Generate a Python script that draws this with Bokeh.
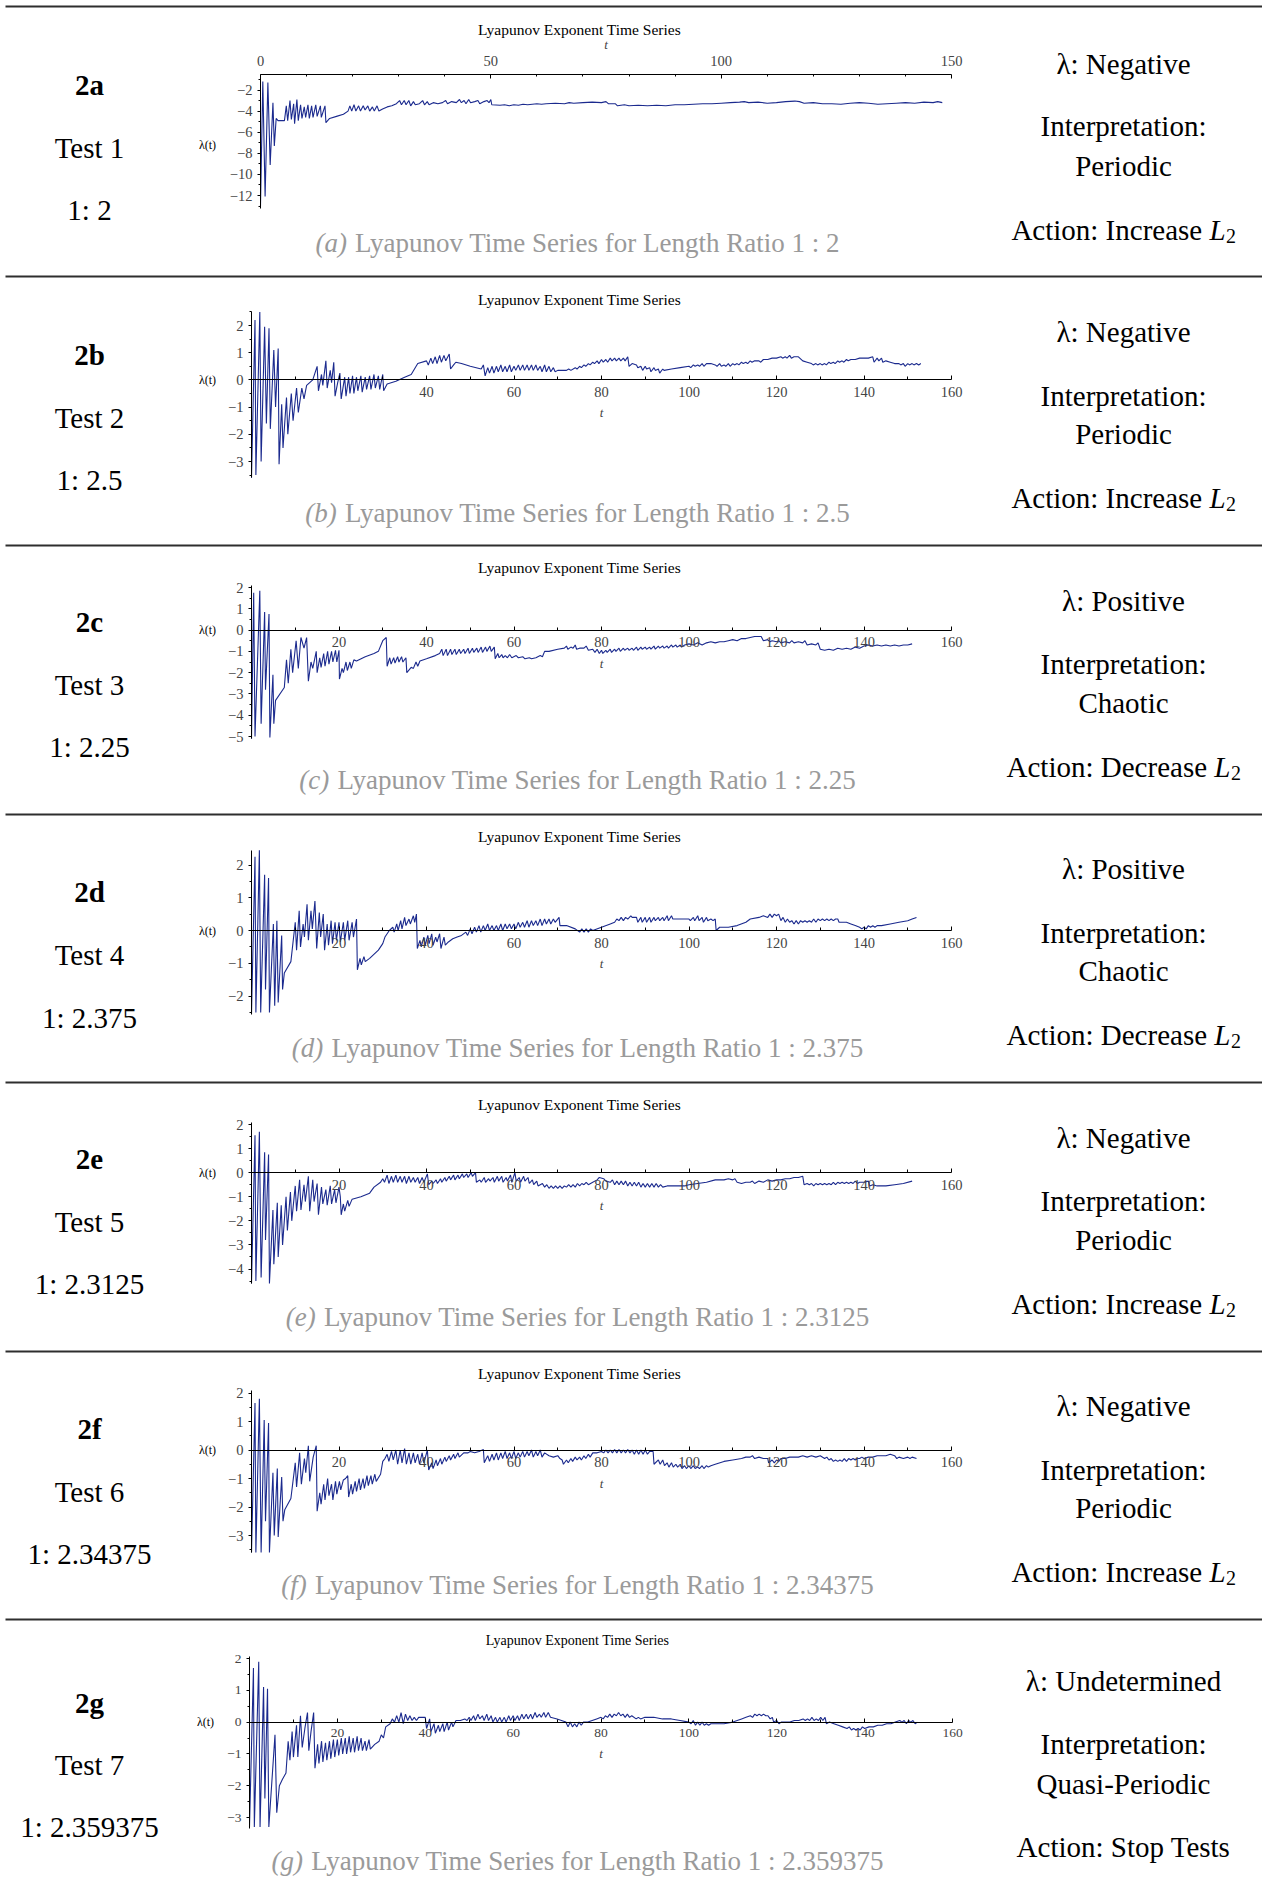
from bokeh.plotting import figure
from bokeh.models import Range1d, LinearAxis, FixedTicker
from bokeh.core.properties import value
from bokeh.embed import file_html
from bokeh.resources import INLINE

# ---------------- data ----------------
row_ids = ["2a", "2b", "2c", "2d", "2e", "2f", "2g"]
test_names = ["Test 1", "Test 2", "Test 3", "Test 4", "Test 5", "Test 6", "Test 7"]
ratios = ["2", "2.5", "2.25", "2.375", "2.3125", "2.34375", "2.359375"]
lambda_signs = ["Negative", "Negative", "Positive", "Positive", "Negative", "Negative", "Undetermined"]
interpretations = ["Periodic", "Periodic", "Chaotic", "Chaotic", "Periodic", "Periodic", "Quasi-Periodic"]
actions = ["Increase", "Increase", "Decrease", "Decrease", "Increase", "Increase", "Stop Tests"]
panel_letters = ["a", "b", "c", "d", "e", "f", "g"]

series_a = [(0.0,-13.0),(0.5,-1.2),(1.0,-12.1),(1.6,-1.3),(2.1,-9.1),(2.7,-3.2),(3.0,-7.3),(3.4,-4.7),(3.8,-4.9),(5.2,-4.9),
(5.6,-3.5),(5.9,-4.9),(6.4,-3.0),(6.7,-4.8),(7.2,-3.3),(7.4,-5.2),(7.9,-2.9),(8.2,-4.9),(8.7,-3.4),(9.0,-4.7),(9.5,-3.6),(9.8,-4.6),
(10.3,-3.4),(10.6,-4.7),(11.1,-3.5),(11.4,-4.6),(12.0,-3.4),(12.3,-4.5),(13.0,-3.5),(13.2,-4.6),(14.0,-3.5),(14.2,-5.1),
(15.0,-4.7),(16.5,-4.5),(18.0,-4.3),(19.0,-4.0),(19.4,-3.5),(19.8,-4.0),(20.3,-3.4),(20.7,-4.0),(21.3,-3.5),(21.7,-4.0),(22.3,-3.5),
(22.7,-3.9),(23.3,-3.5),(23.7,-4.0),(24.3,-3.6),(24.7,-4.0),(25.3,-3.5),(25.7,-4.0),(26.5,-3.8),(27.5,-3.6),(28.5,-3.5),(29.0,-3.4),(29.5,-3.3),
(30.2,-3.0),(30.6,-3.4),(31.2,-3.0),(31.6,-3.4),(32.2,-3.0),(32.6,-3.5),(33.2,-3.1),(33.6,-3.4),(34.5,-3.3),(35.2,-3.0),(35.6,-3.4),
(36.2,-3.1),(36.6,-3.4),(37.5,-3.2),(38.5,-3.3),(39.5,-3.2),(40.2,-3.0),(40.6,-3.3),(41.5,-3.1),(42.5,-3.2),(43.2,-2.9),(43.6,-3.2),
(44.2,-3.0),(44.6,-3.3),(45.2,-2.9),(45.6,-3.2),(46.5,-3.1),(47.2,-3.0),(47.6,-3.3),(48.5,-3.1),(49.2,-3.0),(49.6,-3.2),(50.0,-2.9),(50.2,-3.4),
(52,-3.45),(53,-3.4),(54,-3.5),(55,-3.4),(56,-3.45),(57,-3.35),(58,-3.4),(60,-3.3),(61,-3.35),(62,-3.3),(64,-3.25),(66,-3.3),(67,-3.2),
(68,-3.25),(70,-3.2),(72,-3.15),(74,-3.2),(75,-3.1),(75.5,-3.3),(77,-3.3),(77.5,-3.5),(79,-3.4),(80,-3.5),(82,-3.45),(84,-3.5),(86,-3.45),
(88,-3.5),(90,-3.4),(92,-3.4),(94,-3.35),(96,-3.3),(98,-3.3),(100,-3.25),(102,-3.2),(104,-3.15),(105,-3.1),(106,-3.2),(108,-3.15),
(110,-3.25),(112,-3.2),(114,-3.1),(116,-3.05),(117,-3.1),(118,-3.25),(120,-3.2),(122,-3.3),(124,-3.3),(126,-3.35),(128,-3.25),(130,-3.2),
(132,-3.25),(134,-3.35),(136,-3.3),(138,-3.25),(140,-3.2),(142,-3.25),(144,-3.15),(146,-3.2),(147,-3.1),(148,-3.2)]

series_b = [(0.0,-3.6),(0.8,2.2),(1.0,-3.5),(1.9,2.5),(2.2,-3.0),(3.0,1.95),(3.4,-1.6),(4.0,1.9),(4.3,-1.8),(5.1,1.1),(5.5,-1.0),(6.1,1.15),(6.3,-3.1),
(6.9,-0.9),(7.2,-2.5),(8.0,-0.65),(8.3,-2.0),(9.1,-0.5),(9.5,-1.5),(10.3,-0.3),(10.7,-1.2),(11.5,-0.3),(12.0,-0.7),(12.6,-0.2),(14.0,0.0),
(15.0,0.5),(15.3,-0.4),(16.0,0.2),(16.3,-0.2),(17.0,0.7),(17.3,-0.3),(18.0,0.35),(18.3,-0.1),(18.8,0.65),(19.1,-0.6),(19.7,-0.1),(20.2,0.25),
(20.5,-0.7),(21.0,-0.2),(21.3,0.1),(21.6,-0.6),(22.2,0.1),(22.5,-0.5),(23.1,0.15),(23.4,-0.5),(24.0,0.1),(24.3,-0.4),(25.0,0.15),(25.3,-0.45),
(26.0,0.1),(26.3,-0.35),(27.0,0.15),(27.3,-0.35),(28.0,0.2),(28.3,-0.3),(29.0,0.15),(29.3,-0.35),(30.0,0.2),(30.2,-0.4),
(31.0,-0.15),(33.0,-0.05),(35.0,0.1),(36.5,0.2),(38.0,0.6),(40.0,0.7),(40.4,0.55),(41.0,0.8),(41.4,0.6),(42.0,0.85),(42.4,0.6),(43.0,0.9),
(43.4,0.65),(44.0,0.9),(44.4,0.7),(45.2,0.95),(45.5,0.4),(46.2,0.55),(46.7,0.65),(48,0.6),(50,0.5),(52.5,0.4),(53.0,0.55),(53.4,0.15),
(54.0,0.45),(54.4,0.25),(55.0,0.5),(55.4,0.25),(56.0,0.5),(56.4,0.3),(57.0,0.55),(57.4,0.3),(58.0,0.5),(58.4,0.3),(59.0,0.55),(59.4,0.3),
(60.0,0.5),(60.4,0.35),(61.0,0.55),(61.4,0.35),(62.0,0.55),(62.4,0.35),(63.0,0.55),(63.4,0.35),(64.0,0.55),(64.4,0.35),(65.0,0.55),(65.4,0.35),
(66.0,0.5),(66.4,0.3),(67.0,0.55),(67.4,0.3),(68.0,0.5),(68.4,0.3),(69.0,0.45),(69.4,0.3),(70.0,0.35),(72.0,0.35),(72.5,0.4),(73,0.35),
(74.0,0.45),(74.4,0.4),(75.0,0.5),(75.4,0.45),(76.0,0.55),(76.4,0.5),(77.0,0.6),(77.4,0.55),(78.0,0.65),(78.4,0.6),(79.0,0.7),(79.4,0.6),
(80.0,0.75),(80.4,0.65),(81.0,0.75),(81.4,0.65),(82.0,0.8),(82.4,0.7),(83.0,0.8),(83.4,0.7),(84.0,0.8),(84.4,0.7),(85.0,0.8),(85.4,0.7),
(86.0,0.85),(86.3,0.5),(87.0,0.6),(88.0,0.55),(88.3,0.45),(89.0,0.5),(89.4,0.35),(90.0,0.5),(90.3,0.4),(91.0,0.45),(91.3,0.3),(92.0,0.45),
(92.3,0.35),(93.0,0.4),(93.3,0.25),(94.0,0.4),(94.3,0.35),(96,0.4),(98,0.45),(100,0.5),(100.4,0.45),(101,0.55),(101.4,0.5),(102,0.55),
(102.4,0.5),(103,0.6),(103.4,0.5),(104,0.6),(105,0.6),(106,0.55),(106.4,0.5),(107,0.6),(107.4,0.5),(108,0.55),(108.4,0.5),(109,0.6),
(109.4,0.5),(110,0.6),(110.4,0.55),(111,0.6),(111.4,0.55),(112,0.65),(112.4,0.6),(113,0.65),(113.4,0.6),(114,0.7),(114.4,0.65),(115,0.7),
(116,0.7),(116.4,0.65),(117,0.75),(118,0.75),(119,0.8),(120,0.8),(121,0.85),(121.4,0.8),(122,0.85),(122.4,0.8),(123,0.9),(123.4,0.8),
(124,0.85),(125,0.85),(126,0.7),(127,0.65),(128,0.6),(128.4,0.55),(129,0.6),(129.4,0.55),(130,0.6),(130.4,0.55),(131,0.6),(131.4,0.55),
(132,0.65),(132.4,0.6),(133,0.65),(133.4,0.6),(134,0.7),(134.4,0.65),(135,0.7),(135.4,0.65),(136,0.75),(136.4,0.7),(137,0.75),(138,0.75),
(139,0.8),(140,0.8),(141,0.8),(142,0.85),(142.3,0.65),(143,0.8),(143.4,0.7),(144,0.8),(144.3,0.65),(145,0.7),(146,0.65),(147,0.6),
(148,0.6),(148.4,0.55),(149,0.6),(149.4,0.5),(150,0.6),(150.4,0.55),(151,0.6),(151.4,0.55),(152,0.6),(152.5,0.55),(153,0.6)]

series_c = [(0.0,-5.1),(0.5,1.75),(0.8,-5.0),(1.9,1.85),(2.2,-4.4),(3.0,0.85),(3.2,-2.8),(4.0,0.75),(4.2,-5.05),(4.9,-2.1),(5.1,-4.4),(5.5,-3.3),(7.5,-2.7),
(8.0,-1.4),(8.4,-2.5),(9.0,-0.9),(9.4,-2.0),(10.2,-0.5),(10.7,-1.8),(11.3,-0.35),(12.0,-0.85),(12.6,-0.35),(13.0,-2.4),(13.6,-1.5),(14.0,-1.8),
(14.8,-1.0),(15.0,-2.0),(15.6,-1.3),(15.9,-1.75),(16.5,-1.1),(16.8,-1.7),(17.4,-1.0),(17.7,-1.6),(18.3,-1.0),(18.6,-1.5),(19.2,-0.95),(19.5,-1.5),
(20.0,-0.95),(20.1,-2.3),(20.7,-1.8),(21.0,-2.0),(21.6,-1.5),(21.9,-1.9),(22.5,-1.5),(22.8,-1.8),(23.4,-1.4),(24.0,-1.45),(26,-1.25),(28,-1.1),
(29,-1.0),(30,-0.5),(30.8,-0.35),(31.0,-1.7),(31.6,-1.3),(31.9,-1.6),(32.5,-1.3),(32.8,-1.55),(33.4,-1.25),(33.7,-1.5),(34.3,-1.25),(34.6,-1.5),
(35.3,-1.3),(35.5,-2.0),(36.5,-1.75),(37,-1.8),(37.6,-1.5),(38,-1.7),(38.5,-1.45),(40,-1.35),(42,-1.2),(43,-1.1),(43.5,-0.9),(43.8,-1.2),
(44.5,-0.9),(44.8,-1.2),(45.5,-0.9),(45.8,-1.15),(46.5,-0.9),(46.8,-1.15),(47.5,-0.9),(47.8,-1.1),(48.5,-0.9),(48.8,-1.1),(49.5,-0.85),(49.8,-1.1),
(50.5,-0.85),(50.8,-1.05),(51.5,-0.85),(51.8,-1.05),(52.5,-0.8),(52.8,-1.05),(53.5,-0.8),(53.8,-1.0),(54.5,-0.75),(54.8,-1.0),(55.5,-0.8),(55.7,-1.35),
(56.3,-1.1),(56.6,-1.3),(57.2,-1.15),(57.5,-1.3),(58,-1.2),(58.5,-1.3),(59,-1.15),(59.5,-1.3),(60.5,-1.2),(61,-1.3),(62,-1.25),(62.5,-1.35),
(63.5,-1.3),(64,-1.35),(65,-1.3),(66,-1.2),(66.5,-1.25),(67,-1.0),(68,-1.0),(70,-0.9),(71.5,-0.85),(72,-0.75),(72.3,-0.9),(73,-0.8),(73.5,-0.85),
(74,-0.7),(74.3,-0.9),(75,-0.85),(76,-0.85),(76.5,-0.75),(77,-0.95),(78,-0.9),(78.5,-1.05),(79,-0.9),(79.5,-1.1),(80,-0.95),(80.3,-1.1),
(81,-0.95),(81.3,-1.05),(82,-0.9),(82.3,-1.05),(83,-0.9),(83.3,-1.0),(84,-0.85),(84.3,-1.0),(85,-0.85),(85.3,-0.95),(86,-0.85),(86.3,-0.95),
(87,-0.85),(87.3,-0.95),(88,-0.8),(88.3,-0.95),(89,-0.8),(89.3,-0.9),(90,-0.8),(90.3,-0.9),(91,-0.8),(91.3,-0.9),(92,-0.75),(92.3,-0.9),
(93,-0.75),(93.3,-0.85),(94,-0.75),(94.3,-0.85),(95,-0.75),(95.3,-0.85),(96,-0.7),(96.3,-0.8),(97,-0.7),(97.3,-0.8),(98,-0.7),(98.3,-0.8),
(99,-0.7),(100,-0.65),(101,-0.7),(102,-0.6),(103,-0.7),(104,-0.6),(105,-0.55),(106,-0.6),(107,-0.55),(108,-0.55),(109,-0.5),(110,-0.45),
(111,-0.5),(112,-0.4),(113,-0.4),(114,-0.35),(115,-0.3),(116.5,-0.3),(117,-0.5),(118,-0.45),(118.5,-0.55),(119,-0.5),(120,-0.55),(120.5,-0.5),
(121,-0.6),(122,-0.55),(123,-0.6),(123.5,-0.5),(124,-0.6),(125,-0.55),(126,-0.6),(126.5,-0.5),(127,-0.7),(128,-0.65),(129,-0.7),(129.5,-0.6),
(130,-0.9),(131,-0.95),(132,-0.9),(133,-0.95),(134,-0.85),(135,-0.9),(136,-0.85),(137,-0.9),(138,-0.8),(139,-0.85),(140,-0.75),(141,-0.7),
(142,-0.75),(143,-0.7),(144,-0.75),(145,-0.7),(146,-0.75),(147,-0.7),(148,-0.75),(149,-0.7),(150,-0.7),(151,-0.65)]

series_d = [(0.0,-2.55),(0.8,2.25),(1.0,-2.5),(1.8,2.45),(2.1,-2.5),(3.0,1.7),(3.2,-1.8),(3.9,1.6),(4.1,-2.5),(5.0,0.2),(5.3,-2.3),(5.8,0.3),(6.1,-2.2),
(6.9,-0.15),(7.1,-1.8),(7.5,-1.3),(9.0,-0.95),(10.0,0.25),(10.3,-0.6),(10.9,0.6),(11.2,-0.5),(11.8,0.2),(12.1,-0.2),(12.7,0.8),(13.0,-0.3),
(13.6,0.6),(13.9,0.05),(14.5,0.9),(14.9,-0.55),(15.5,0.55),(15.8,-0.2),(16.4,0.5),(16.7,-0.6),(17.3,0.2),(17.6,-0.45),(18.2,0.3),(18.5,-0.4),
(19.1,0.25),(19.4,-0.3),(20.0,0.25),(20.3,-0.35),(21.0,0.25),(21.3,-0.3),(22.0,0.3),(22.3,-0.3),(23.0,0.25),(23.3,-0.2),(24.0,0.35),(24.2,-1.2),
(24.8,-0.85),(25.1,-1.05),(25.7,-0.8),(26.0,-0.95),(27,-0.85),(29,-0.6),(30,-0.4),(30.5,-0.2),(31.5,0.0),(32.3,0.1),(32.6,-0.05),(33.2,0.2),
(33.5,0.0),(34.1,0.3),(34.4,0.05),(35.0,0.4),(35.3,0.15),(36.0,0.35),(36.3,0.2),(37.0,0.45),(37.3,0.25),(37.7,0.5),(37.9,-0.55),(38.5,-0.3),
(38.8,-0.5),(39.4,-0.2),(39.7,-0.45),(40.3,-0.15),(40.6,-0.4),(41.2,-0.1),(41.5,-0.45),(42.1,-0.2),(42.4,-0.35),(43.0,-0.1),(43.3,-0.55),
(44.0,-0.2),(44.3,-0.45),(45.0,-0.35),(46.0,-0.25),(47.0,-0.2),(48,-0.15),(49,-0.05),(49.4,-0.15),(50,0.05),(50.4,-0.1),(51,0.1),(51.4,-0.05),
(52,0.15),(52.4,-0.05),(53,0.15),(53.4,0.0),(54,0.2),(54.4,0.0),(55,0.15),(55.4,0.0),(56,0.15),(56.4,0.0),(57,0.2),(57.4,0.0),(58,0.2),
(58.4,0.05),(59,0.2),(59.4,0.05),(60,0.2),(60.4,0.05),(61,0.25),(61.4,0.1),(62,0.25),(62.4,0.1),(63,0.3),(63.4,0.1),(64,0.3),(64.4,0.15),
(65,0.3),(65.4,0.15),(66,0.35),(66.4,0.15),(67,0.35),(67.4,0.2),(68,0.35),(68.4,0.2),(69,0.35),(69.4,0.25),(70.3,0.4),(70.5,0.15),(72,0.15),
(74,0.05),(75,-0.05),(75.5,0.05),(76,-0.05),(76.5,0.05),(77,-0.05),(77.5,0.05),(78,0.0),(80,0.1),(82,0.2),(83,0.25),(83.5,0.35),(84,0.3),
(84.5,0.4),(85,0.3),(85.5,0.4),(86,0.35),(86.7,0.45),(87,0.4),(88,0.4),(88.3,0.25),(89,0.4),(89.3,0.25),(90,0.4),(90.3,0.25),(91,0.4),
(91.3,0.25),(92,0.4),(92.3,0.3),(93,0.4),(93.3,0.3),(94,0.4),(94.3,0.3),(95,0.45),(95.3,0.3),(96,0.45),(96.3,0.35),(97,0.35),(99,0.35),
(100,0.35),(100.3,0.3),(101,0.4),(101.3,0.3),(102,0.45),(102.3,0.3),(103,0.4),(103.3,0.25),(104,0.4),(104.3,0.3),(105,0.35),(105.5,0.3),
(106,0.35),(106.2,0.0),(107,0.1),(109,0.1),(111,0.15),(113,0.25),(114,0.35),(116,0.4),(117,0.45),(118,0.4),(118.5,0.5),(119,0.4),(119.5,0.5),
(120,0.45),(120.5,0.5),(121,0.3),(121.5,0.4),(122,0.25),(122.5,0.35),(123,0.25),(123.5,0.3),(124,0.2),(124.5,0.3),(125,0.2),(125.5,0.3),
(126,0.25),(126.5,0.3),(127,0.25),(127.5,0.3),(128,0.25),(128.5,0.35),(129,0.25),(129.5,0.35),(130,0.3),(130.5,0.35),(131,0.3),(131.5,0.35),
(132,0.3),(132.5,0.35),(133,0.3),(133.5,0.35),(134,0.35),(134.3,0.25),(136,0.25),(137,0.2),(138,0.15),(139,0.1),(139.5,0.05),(140,0.1),
(140.5,0.05),(141,0.15),(141.5,0.1),(142,0.15),(142.5,0.1),(143,0.15),(144,0.15),(146,0.2),(148,0.25),(150,0.3),(151,0.35),(152,0.4)]

series_e = [(0.0,-4.6),(0.8,1.55),(1.0,-4.5),(1.8,1.7),(2.2,-4.35),(3.0,0.85),(3.2,-2.8),(3.9,0.75),(4.1,-4.6),(4.9,-1.55),(5.1,-3.8),(5.9,-1.25),
(6.1,-3.5),(6.8,-1.35),(7.1,-3.0),(7.9,-1.0),(8.2,-2.4),(8.9,-0.8),(9.2,-2.0),(10.0,-0.55),(10.3,-1.6),(11.0,-0.3),(11.3,-1.55),(12.0,-0.5),
(12.3,-1.2),(13.0,-0.15),(13.3,-1.6),(14.0,-0.3),(14.3,-1.2),(15.0,-0.45),(15.3,-1.75),(16.0,-0.6),(16.3,-1.3),(17.0,-0.7),(17.3,-1.35),
(18.0,-0.55),(18.3,-1.3),(19.0,-0.7),(19.3,-1.25),(20.0,-0.6),(20.3,-1.0),(20.5,-1.75),(21.0,-1.3),(21.3,-1.6),(22.0,-1.15),(22.3,-1.4),
(23.0,-1.1),(25,-1.0),(27,-0.85),(28,-0.6),(29.5,-0.4),(30,-0.25),(30.4,-0.4),(31,-0.1),(31.4,-0.45),(32,-0.15),(32.4,-0.4),(33,-0.1),
(33.4,-0.4),(34,-0.15),(34.4,-0.4),(35,-0.15),(35.4,-0.45),(36,-0.15),(36.4,-0.4),(37,-0.2),(37.4,-0.4),(38,-0.2),(38.4,-0.45),(39,-0.2),
(39.4,-0.4),(40.2,-0.05),(40.5,-0.5),(41.2,-0.35),(41.5,-0.45),(42.2,-0.3),(42.5,-0.45),(43.2,-0.25),(43.5,-0.4),(44.2,-0.2),(44.5,-0.35),
(45.2,-0.15),(45.5,-0.3),(46.2,-0.1),(46.5,-0.3),(47.2,-0.1),(47.5,-0.25),(48.2,-0.05),(48.5,-0.2),(49.2,-0.05),(49.5,-0.2),(50.2,0.0),
(50.5,-0.15),(51.2,0.0),(51.4,-0.4),(52.2,-0.3),(52.5,-0.4),(53.2,-0.2),(53.5,-0.4),(54.2,-0.25),(54.5,-0.35),(55.2,-0.2),(55.5,-0.4),
(56.2,-0.15),(56.5,-0.35),(57.2,-0.15),(57.5,-0.4),(58.2,-0.2),(58.5,-0.35),(59.2,-0.1),(59.5,-0.4),(60.2,0.0),(60.5,-0.35),(61.2,-0.2),
(61.5,-0.4),(62.2,-0.15),(62.5,-0.35),(63.2,-0.2),(63.5,-0.45),(64.2,-0.3),(64.5,-0.5),(65.2,-0.35),(65.5,-0.55),(66.5,-0.45),(67,-0.6),
(67.5,-0.5),(68,-0.65),(68.5,-0.55),(69,-0.65),(69.5,-0.55),(70,-0.65),(70.5,-0.55),(71,-0.65),(71.5,-0.55),(72,-0.6),(72.5,-0.5),(73,-0.6),
(73.5,-0.5),(74,-0.6),(74.5,-0.45),(75,-0.55),(75.5,-0.45),(76,-0.5),(76.5,-0.4),(77,-0.5),(78,-0.4),(79,-0.3),(79.5,-0.2),(80.5,-0.25),
(81,-0.35),(82,-0.4),(82.5,-0.3),(83,-0.5),(83.5,-0.35),(84,-0.5),(84.5,-0.35),(85,-0.5),(85.5,-0.35),(86,-0.55),(86.5,-0.4),(87,-0.55),
(87.5,-0.4),(88,-0.55),(88.5,-0.4),(89,-0.6),(89.5,-0.45),(90,-0.6),(90.5,-0.45),(91,-0.6),(91.5,-0.45),(92,-0.6),(92.5,-0.45),(93,-0.6),
(93.5,-0.5),(94,-0.6),(95,-0.55),(97,-0.55),(99,-0.55),(100,-0.5),(102,-0.45),(104,-0.4),(106,-0.3),(108,-0.3),(109,-0.25),(110,-0.3),
(110.5,-0.25),(111,-0.4),(112,-0.45),(113,-0.4),(114,-0.4),(114.5,-0.35),(115,-0.45),(116,-0.35),(117,-0.4),(118,-0.3),(119,-0.35),(120,-0.3),
(121,-0.3),(122,-0.25),(123,-0.25),(124,-0.2),(125,-0.2),(126,-0.15),(126.3,-0.5),(127,-0.45),(127.5,-0.5),(128,-0.45),(128.5,-0.55),(129,-0.45),
(129.5,-0.5),(130,-0.45),(130.5,-0.5),(131,-0.45),(131.5,-0.5),(132,-0.45),(132.5,-0.5),(133,-0.4),(133.5,-0.5),(134,-0.4),(134.5,-0.45),
(135,-0.4),(135.5,-0.45),(136,-0.4),(136.5,-0.45),(137,-0.4),(137.5,-0.45),(138,-0.35),(138.5,-0.45),(139,-0.4),(140,-0.4),(141,-0.35),
(141.3,-0.55),(142,-0.5),(143,-0.55),(145,-0.55),(147,-0.5),(149,-0.45),(151,-0.35)]

series_f = [(0.0,-3.6),(0.8,1.65),(1.0,-3.6),(1.8,1.8),(2.2,-3.6),(2.9,1.05),(3.2,-2.5),(3.9,0.95),(4.1,-3.6),(4.9,-0.8),(5.2,-3.0),(5.9,-0.65),
(6.1,-3.05),(6.9,-0.95),(7.2,-2.5),(7.6,-2.1),(9.0,-1.7),(10.0,-0.45),(10.3,-1.3),(11.0,-0.1),(11.4,-1.2),(12.1,-0.3),(12.4,-0.8),(13.0,0.15),
(13.3,-1.1),(14.1,-0.25),(14.8,0.15),(15.0,-2.15),(15.6,-1.5),(15.9,-1.9),(16.5,-1.2),(16.8,-1.75),(17.4,-1.0),(17.7,-1.6),(18.3,-1.2),
(18.6,-1.75),(19.2,-1.1),(19.5,-1.55),(20.1,-1.1),(20.4,-1.4),(21.0,-1.05),(21.5,-1.0),(22.0,-0.9),(22.2,-1.65),(22.8,-1.2),(23.1,-1.55),
(23.7,-1.1),(24.0,-1.45),(24.6,-1.0),(24.9,-1.4),(25.5,-1.0),(25.8,-1.35),(26.4,-0.9),(26.7,-1.25),(27.3,-0.9),(27.6,-1.2),(28.2,-0.85),
(28.5,-1.1),(29.5,-0.85),(30,-0.4),(30.5,-0.3),(31,-0.15),(31.4,-0.4),(32,-0.05),(32.4,-0.35),(33,0.0),(33.4,-0.5),(34,0.0),(34.4,-0.45),
(35,0.05),(35.4,-0.5),(36,-0.1),(36.4,-0.5),(37,-0.1),(37.4,-0.45),(38,-0.15),(38.4,-0.5),(39,-0.1),(39.4,-0.45),(40.2,0.0),(40.5,-0.7),
(41.2,-0.45),(41.5,-0.65),(42.2,-0.35),(42.5,-0.55),(43.2,-0.3),(43.5,-0.5),(44.2,-0.25),(44.5,-0.4),(45.2,-0.2),(45.5,-0.35),(46.2,-0.15),
(46.5,-0.3),(47.2,-0.1),(47.5,-0.25),(48.5,-0.1),(49.5,-0.1),(50,-0.05),(51,-0.1),(52,-0.05),(53,0.02),(53.2,-0.45),(54,-0.2),(54.4,-0.4),
(55,-0.15),(55.4,-0.35),(56,-0.1),(56.4,-0.35),(57,-0.1),(57.4,-0.3),(58,-0.05),(58.4,-0.3),(59,-0.1),(59.4,-0.3),(60,-0.05),(60.4,-0.3),
(61,-0.1),(61.4,-0.25),(62,-0.05),(62.4,-0.25),(63,-0.05),(63.4,-0.2),(64,0.0),(64.4,-0.25),(65,-0.05),(65.4,-0.2),(66,0.0),(66.4,-0.25),
(67,-0.1),(68,-0.2),(69,-0.25),(70,-0.2),(70.5,-0.3),(71,-0.35),(71.3,-0.5),(72,-0.35),(72.4,-0.45),(73,-0.3),(73.4,-0.4),(74,-0.25),
(74.4,-0.35),(75,-0.25),(75.4,-0.35),(76,-0.2),(76.4,-0.3),(77,-0.15),(77.4,-0.25),(78,-0.1),(79,-0.1),(80,-0.05),(80.5,-0.1),(81,0.0),
(81.5,-0.1),(82,0.0),(82.5,-0.1),(83,0.02),(83.5,-0.1),(84,0.02),(84.5,-0.1),(85,0.0),(85.5,-0.1),(86,0.02),(86.5,-0.1),(87,0.0),(87.5,-0.15),
(88,0.0),(88.5,-0.15),(89,0.0),(89.5,-0.15),(90,0.0),(90.5,-0.15),(91,-0.05),(91.8,-0.05),(92,-0.5),(93,-0.35),(93.4,-0.5),(94,-0.35),
(94.4,-0.55),(95,-0.45),(95.4,-0.6),(96,-0.45),(96.4,-0.6),(97,-0.5),(97.4,-0.6),(98,-0.5),(98.4,-0.65),(99,-0.55),(99.4,-0.65),(100,-0.55),
(100.4,-0.65),(101,-0.55),(101.4,-0.65),(102,-0.6),(102.4,-0.65),(103,-0.55),(103.4,-0.65),(104,-0.55),(104.4,-0.6),(105,-0.55),(106,-0.5),
(108,-0.4),(110,-0.35),(112,-0.3),(113,-0.25),(114,-0.25),(114.5,-0.2),(115,-0.3),(116,-0.25),(117,-0.3),(118,-0.3),(118.2,-0.45),(119,-0.35),
(119.5,-0.45),(120,-0.35),(120.5,-0.4),(121,-0.3),(122,-0.3),(123,-0.25),(124,-0.25),(125,-0.25),(126,-0.2),(127,-0.25),(128,-0.2),
(129,-0.25),(130,-0.2),(131,-0.3),(131.5,-0.25),(132,-0.35),(132.5,-0.3),(133,-0.4),(133.5,-0.35),(134,-0.4),(134.5,-0.35),(135,-0.4),
(135.5,-0.3),(136,-0.4),(136.5,-0.3),(137,-0.35),(137.5,-0.3),(138,-0.35),(138.5,-0.3),(139,-0.3),(139.5,-0.25),(140,-0.3),(141,-0.25),
(142,-0.25),(143,-0.2),(144,-0.2),(145,-0.2),(146,-0.15),(147,-0.2),(147.5,-0.3),(148,-0.25),(149,-0.3),(150,-0.25),(150.5,-0.3),(151,-0.25),(152,-0.3)]

series_g = [(0.0,-3.3),(0.9,1.7),(1.1,-3.3),(2.1,1.9),(2.4,-3.3),(3.2,1.1),(3.5,-2.4),(4.1,1.05),(4.4,-3.3),(5.8,-0.4),(6.2,-2.85),(6.8,-2.0),
(7.5,-1.8),(8.3,-1.6),(8.8,-0.6),(9.2,-1.2),(9.7,-0.3),(10.0,-1.1),(10.7,-0.1),(11.0,-1.1),(11.6,0.2),(12.0,-0.8),(12.6,-0.2),(13.2,0.3),
(13.5,-0.9),(14.0,-0.3),(14.6,0.3),(14.9,-1.45),(15.5,-0.7),(15.8,-1.3),(16.4,-0.6),(16.7,-1.25),(17.3,-0.65),(17.6,-1.2),(18.2,-0.6),
(18.5,-1.15),(19.1,-0.55),(19.4,-1.1),(20.0,-0.55),(20.3,-1.05),(20.9,-0.5),(21.2,-1.0),(21.8,-0.5),(22.1,-1.0),(22.7,-0.45),(23.0,-0.95),
(23.6,-0.5),(23.9,-0.95),(24.5,-0.45),(24.8,-0.9),(25.4,-0.5),(25.7,-0.9),(26.3,-0.6),(26.6,-0.9),(27.2,-0.55),(27.5,-0.85),(28.5,-0.7),
(29.5,-0.6),(30.0,-0.4),(30.5,-0.5),(31.0,-0.15),(32,-0.05),(32.5,0.1),(33,0.0),(33.5,0.2),(34,0.0),(34.5,0.3),(35,-0.05),(35.5,0.25),
(36,0.05),(36.5,0.2),(37,0.05),(37.5,0.15),(38,0.05),(38.5,0.15),(39,0.15),(40,0.15),(40.3,-0.2),(41,0.1),(41.3,-0.3),(42,-0.05),(42.3,-0.35),
(43,-0.1),(43.3,-0.3),(44,-0.05),(44.3,-0.3),(45,0.0),(45.3,-0.25),(46,0.0),(46.3,-0.15),(47,0.05),(48,0.05),(49,0.1),(49.5,0.05),(50,0.15),
(50.4,0.05),(51,0.2),(51.4,0.05),(52,0.25),(52.4,0.1),(53,0.2),(53.4,0.05),(54,0.25),(54.4,0.05),(55,0.2),(55.4,0.0),(56,0.15),(56.4,0.0),
(57,0.15),(57.4,0.0),(58,0.15),(58.4,0.0),(59,0.2),(59.4,0.05),(60,0.2),(60.4,0.05),(61,0.2),(61.4,0.05),(62,0.25),(62.4,0.1),(63,0.25),
(63.4,0.1),(64,0.25),(64.4,0.1),(65,0.3),(65.4,0.15),(66,0.25),(66.4,0.15),(67,0.3),(67.4,0.15),(68,0.3),(68.5,0.15),(70,0.1),(71,0.05),
(72,0.0),(72.5,-0.15),(73,0.0),(73.5,-0.15),(74,-0.05),(74.5,-0.15),(75,0.0),(75.5,-0.1),(76,0.0),(77,0.0),(78,0.05),(79,0.1),(80,0.15),
(80.5,0.1),(81,0.2),(81.5,0.15),(82,0.25),(82.5,0.15),(83,0.25),(83.5,0.2),(84,0.3),(84.5,0.2),(85,0.25),(85.5,0.15),(86,0.25),(86.5,0.15),
(87,0.2),(88,0.1),(88.5,0.15),(89,0.1),(90,0.15),(92,0.15),(94,0.1),(96,0.1),(98,0.05),(100,0.0),(100.5,-0.05),(101,0.05),(101.5,-0.1),
(102,0.0),(102.5,-0.1),(103,0.0),(103.5,-0.1),(104,-0.05),(104.5,-0.1),(105,-0.05),(106,-0.05),(107,-0.05),(108,-0.05),(110,0.0),(111,0.05),
(112,0.1),(113,0.15),(114,0.2),(114.5,0.15),(115,0.25),(115.5,0.2),(116,0.25),(116.5,0.2),(117,0.25),(117.5,0.2),(118,0.2),(118.5,0.1),
(119,0.15),(119.3,0.0),(120,0.05),(120.5,-0.05),(121,0.0),(122,0.0),(123,0.0),(124,0.05),(125,0.05),(126,0.1),(126.5,0.05),(127,0.1),
(127.5,0.05),(128,0.15),(128.5,0.05),(129,0.1),(129.5,0.05),(130,0.15),(130.5,0.05),(131,0.15),(131.3,-0.05),(132,0.0),(133,-0.05),(134,-0.1),
(135,-0.15),(136,-0.2),(136.5,-0.15),(137,-0.25),(137.5,-0.2),(138,-0.25),(138.5,-0.2),(139,-0.25),(139.5,-0.15),(140,-0.2),(141,-0.15),
(142,-0.15),(143,-0.1),(144,-0.1),(145,-0.05),(146,-0.05),(147,0.0),(148,0.05),(148.5,0.0),(149,0.05),(149.5,-0.05),(150,0.05),(150.5,0.0),
(151,0.05),(151.5,-0.05),(152,0.0)]

all_series = [series_a, series_b, series_c, series_d, series_e, series_f, series_g]

# axis extents of each panel (data units)
t_max = [150, 160, 160, 160, 160, 160, 160]
y_bounds = [(-13.2, -0.55), (-3.6, 2.5), (-5.1, 2.1), (-2.55, 2.45), (-4.6, 2.1), (-3.6, 2.1), (-3.35, 2.05)]

# ---------------- page geometry (pixels, top-down) ----------------
W, H = 1262, 1886
SERIF = "Liberation Serif"
NAVY = "#1b2a8e"
GRAY = "#9a9a9a"
TXT = 29
CAP = 27

rule_y = [6, 276, 545, 814, 1082, 1351, 1619]
left_y = [(84, 147, 209), (354, 417, 479), (621, 684, 746), (891, 954, 1017), (1159, 1221, 1283), (1428, 1491, 1553), (1702, 1764, 1826)]
right_y = [(63, 125, 165, 229), (331, 395, 433, 497), (600, 663, 702, 766), (868, 932, 970, 1034),
           (1137, 1200, 1239, 1303), (1405, 1469, 1507, 1571), (1680, 1743, 1783, 1846)]
cap_y = [242, 512, 779, 1047, 1316, 1584, 1860]
title_y = [29, 299, 567, 836, 1104, 1373, 1640]
LEFT_X, RIGHT_X, MID_X = 89, 1123, 578.5
# pixel calibration of each panel: (value, pixel) pairs for t and for lambda
x_cal = [((0, 260), (150, 951)), ((0, 251), (160, 951)), ((0, 251), (160, 951)), ((0, 251), (160, 951)),
         ((0, 251), (160, 951)), ((0, 251), (160, 951)), ((0, 249), (160, 952))]
y_cal = [((-2, 89.5), (-12, 195)), ((2, 325), (-3, 461)), ((2, 587), (-5, 736)), ((2, 864.5), (-2, 995.5)),
         ((2, 1124), (-4, 1268.5)), ((2, 1392.5), (-3, 1535)), ((2, 1658), (-3, 1817))]

TIMES = {' ': 250, '(': 333, ')': 333, '.': 250, ':': 278, '-': 333, 'A': 722, 'D': 722, 'E': 611, 'I': 333, 'L': 611,
         'R': 667, 'S': 556, 'T': 611, 'a': 444, 'b': 500, 'c': 444, 'd': 500, 'e': 444, 'f': 333, 'g': 500, 'h': 500,
         'i': 278, 'l': 278, 'm': 778, 'n': 500, 'o': 500, 'p': 500, 'r': 333, 's': 389, 't': 278, 'u': 500, 'v': 500,
         'x': 500, 'y': 500}
TIMES_IT = {'(': 333, ')': 333, 'a': 500, 'b': 500, 'c': 444, 'd': 500, 'e': 444, 'f': 278, 'g': 500, 'L': 556}


def tw(s, size, table=TIMES):
    return sum(table.get(ch, 500) for ch in s) * size / 1000.0


p = figure(width=W, height=H, x_range=Range1d(0, W), y_range=Range1d(H, 0), output_backend="svg",
           toolbar_location=None, min_border=0, outline_line_color=None,
           x_axis_location=None, y_axis_location=None)
p.grid.visible = False


def text(x, y, s, size=TXT, style="normal", align="center", color="black", **kw):
    p.text(x=[x], y=[y], text=[s], text_font=value(SERIF), text_font_size=f"{size}px",
           text_font_style=style, text_align=align, text_baseline="middle", text_color=color, **kw)


# horizontal rules of the table
p.quad(left=[5] * len(rule_y), right=[W] * len(rule_y), top=[r - 1.1 for r in rule_y],
       bottom=[r + 1.1 for r in rule_y], fill_color="#2e2e2e", line_color=None)

xr, yr = {}, {}
for i in range(7):
    (xv1, xp1), (xv2, xp2) = x_cal[i]
    sx = (xp2 - xp1) / (xv2 - xv1)
    xr[f"x{i}"] = Range1d(xv1 - xp1 / sx, xv1 + (W - xp1) / sx)
    (yv1, yp1), (yv2, yp2) = y_cal[i]
    sy = (yp2 - yp1) / (yv1 - yv2)
    yr[f"y{i}"] = Range1d(yv1 - (H - yp1) / sy, yv1 + yp1 / sy)
p.extra_x_ranges = xr
p.extra_y_ranges = yr

for i in range(7):
    xn, yn = f"x{i}", f"y{i}"
    small = (i == 6)
    tick_fs = "13.5px" if small else "14.5px"
    common = dict(x_range_name=xn, y_range_name=yn, axis_line_color="black", axis_line_width=1,
                  major_tick_line_color="black", minor_tick_line_color="black",
                  major_label_text_font=SERIF, major_label_text_font_size=tick_fs,
                  axis_label_text_font=SERIF, axis_label_text_font_size="13px",
                  axis_label_text_font_style="italic")
    y0, y1 = y_bounds[i]
    if i == 0:
        xa = LinearAxis(fixed_location=y1, bounds=(0, t_max[i]),
                        ticker=FixedTicker(ticks=[0, 50, 100, 150], minor_ticks=list(range(10, 150, 10))),
                        axis_label="t", major_label_standoff=9, axis_label_standoff=1,
                        major_tick_in=4, major_tick_out=0, minor_tick_in=2, minor_tick_out=0, **common)
        p.add_layout(xa, "above")
        ya = LinearAxis(fixed_location=0, bounds=(y0, y1),
                        ticker=FixedTicker(ticks=list(range(-12, -1, 2)), minor_ticks=list(range(-13, 0, 2))),
                        major_label_standoff=5, major_tick_in=0, major_tick_out=3, minor_tick_in=0, minor_tick_out=2,
                        **common)
        p.add_layout(ya, "left")
        lab_y = -7.2
    else:
        overrides = {20: ""} if i == 1 else {}
        xa = LinearAxis(fixed_location=0, bounds=(0, t_max[i]),
                        ticker=FixedTicker(ticks=list(range(20, 161, 20)), minor_ticks=list(range(10, 161, 20))),
                        axis_label="t", major_label_standoff=7, axis_label_standoff=5,
                        major_label_overrides=overrides,
                        major_tick_in=4, major_tick_out=0, minor_tick_in=3, minor_tick_out=0, **common)
        p.add_layout(xa, "below")
        yt = [v for v in range(-6, 4) if y0 <= v <= y1]
        ym = [v + 0.5 for v in range(-6, 4) if y0 <= v + 0.5 <= y1]
        ya = LinearAxis(fixed_location=0, bounds=(y0, y1), ticker=FixedTicker(ticks=yt, minor_ticks=ym),
                        major_label_standoff=5, major_tick_in=0, major_tick_out=3, minor_tick_in=0, minor_tick_out=2,
                        **common)
        p.add_layout(ya, "left")
        lab_y = 0
    # lambda(t) label beside the vertical axis
    text(207 if i < 6 else 205, lab_y, "λ(t)", 12, y_range_name=yn)
    # plot title
    text(MID_X + (0.5 if i < 6 else -1.5), title_y[i], "Lyapunov Exponent Time Series", 14 if small else 15.5)
    # the series
    pts = all_series[i]
    p.line([q[0] for q in pts], [q[1] for q in pts], x_range_name=xn, y_range_name=yn,
           line_color=NAVY, line_width=1.1)

    # caption below the plot
    lead = f"({panel_letters[i]})"
    rest = "Lyapunov Time Series for Length Ratio 1 : " + ratios[i]
    w_lead = tw(lead, CAP, TIMES_IT)
    gap = 0.3 * CAP
    w_rest = tw(rest, CAP)
    start = MID_X - (w_lead + gap + w_rest) / 2
    text(start, cap_y[i], lead, CAP, "italic", "left", GRAY)
    text(start + w_lead + gap, cap_y[i], rest, CAP, "normal", "left", GRAY)

    # left column
    ly = left_y[i]
    text(LEFT_X, ly[0], row_ids[i], TXT, "bold")
    text(LEFT_X, ly[1], test_names[i])
    text(LEFT_X, ly[2], "1: " + ratios[i])

    # right column
    ry = right_y[i]
    text(RIGHT_X, ry[0], "λ: " + lambda_signs[i])
    text(RIGHT_X, ry[1], "Interpretation:")
    text(RIGHT_X, ry[2], interpretations[i])
    if actions[i] in ("Increase", "Decrease"):
        main = "Action: " + actions[i]
        w_main = tw(main, TXT)
        w_sp = tw(" ", TXT)
        w_L = tw("L", TXT, TIMES_IT)
        w_2 = tw("2", 20)
        st = RIGHT_X - (w_main + w_sp + w_L + w_2) / 2
        text(st, ry[3], main, TXT, "normal", "left")
        text(st + w_main + w_sp, ry[3], "L", TXT, "italic", "left")
        text(st + w_main + w_sp + w_L + 0.5, ry[3] + 6, "2", 20, "normal", "left")
    else:
        text(RIGHT_X, ry[3], "Action: " + actions[i])

open("out.html", "w").write(file_html(p, INLINE))
